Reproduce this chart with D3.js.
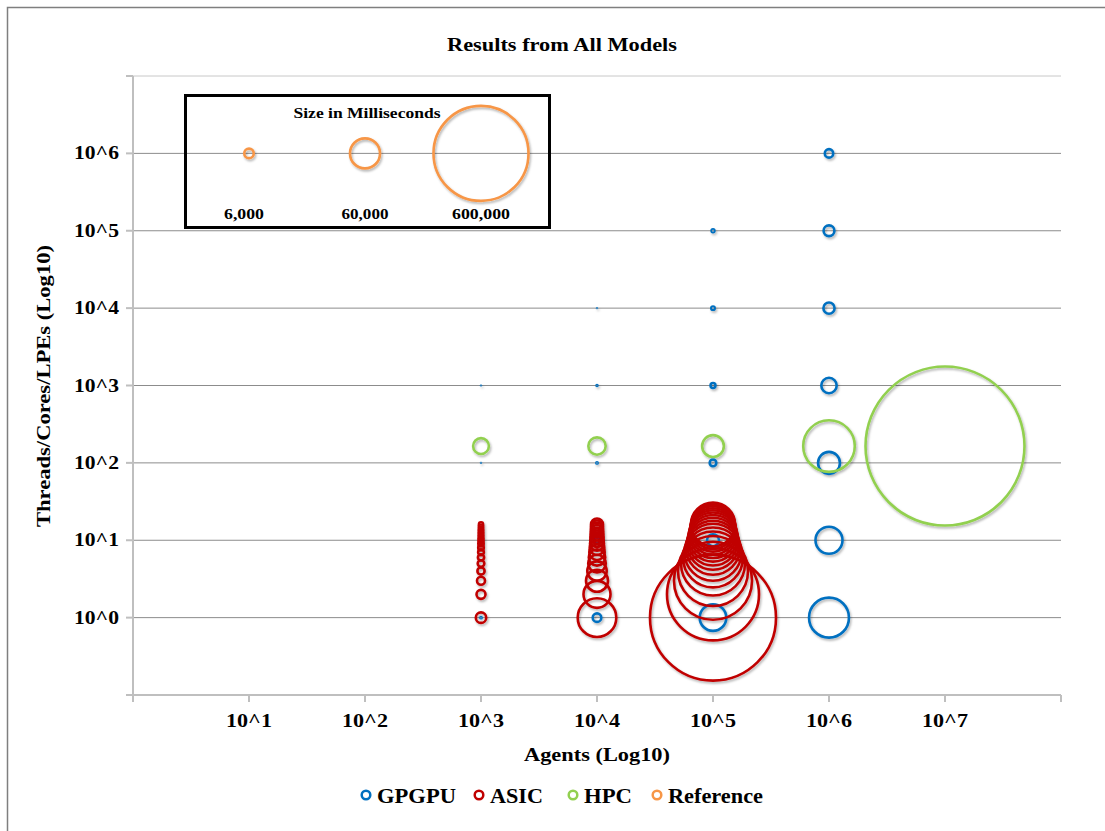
<!DOCTYPE html>
<html>
    <head>
        <script src="https://d3js.org/d3.v7.min.js"></script>
        <style>
            body{margin:0;background:#fff;}
            text{font-family:"Liberation Serif","Times New Roman",serif;font-weight:bold;fill:#000;}
        </style>
    </head>
    <body>
        <svg height="831" width="1105" id="chart"></svg>
        <script>
            // agents, threads/cores and run time (ms) per series
            const gpgpuAgents=[1e3,1e3,1e3,1e3, 1e4,1e4,1e4,1e4,1e4, 1e5,1e5,1e5,1e5,1e5,1e5, 1e6,1e6,1e6,1e6,1e6,1e6,1e6];
            const gpgpuThreads=[1,10,100,1000, 1,10,100,1000,1e4, 1,10,100,1000,1e4,1e5, 1,10,100,1000,1e4,1e5,1e6];
            const gpgpuMs=[450,600,170,170, 4900,2400,450,380,170, 47000,9600,2900,1660,1060,860, 106000,48500,32000,15800,8300,7800,4700];

            const asicAgents=[1e3,1e3,1e3,1e3,1e3,1e3,1e3,1e3,1e3,1e3,1e3,1e3,1e3,1e3,1e3,1e3,
                              1e4,1e4,1e4,1e4,1e4,1e4,1e4,1e4,1e4,1e4,1e4,1e4,1e4,1e4,1e4,1e4,
                              1e5,1e5,1e5,1e5,1e5,1e5,1e5,1e5,1e5,1e5,1e5,1e5,1e5,1e5,1e5,1e5];
            const asicCores=[1,2,3,4,5,6,7,8,9,10,11,12,13,14,15,16,
                             1,2,3,4,5,6,7,8,9,10,11,12,13,14,15,16,
                             1,2,3,4,5,6,7,8,9,10,11,12,13,14,15,16];
            const asicMs=[7200,5390,4260,3450,2900,2560,2240,2090,1940,1800,1660,1600,1530,1470,1410,1350,
                          99100,48500,32200,25000,20600,17900,15800,14200,13000,12300,11600,10900,10600,10200,9900,9600,
                          1056000,563000,405000,326000,272000,239000,216000,194000,180000,169000,160000,151000,143000,137000,132000,129000];

            const hpcAgents=[1e3,1e4,1e5,1e6,1e7];
            const hpcThreads=[165,165,165,165,165];
            const hpcMs=[16600,20000,31600,177000,1680000];

            const refAgents=[10,100,1000];
            const refThreads=[1e6,1e6,1e6];
            const refMs=[6000,60000,600000];

            const seriesNames=["GPGPU","ASIC","HPC","Reference"];
            const seriesColors=["#0070C0","#C00000","#92D050","#F79646"];
            const xTicks=[1e1,1e2,1e3,1e4,1e5,1e6,1e7];
            const yTicks=[1e0,1e1,1e2,1e3,1e4,1e5,1e6];

            let svg=d3.select("#chart");
            let defs=svg.append("defs");
            defs.append("filter").attr("id","shadow").attr("x","-20%").attr("y","-20%").attr("width","150%").attr("height","150%")
                .append("feDropShadow").attr("dx",1.2).attr("dy",1.8).attr("stdDeviation",1.3)
                .attr("flood-color","#000").attr("flood-opacity",0.3);

            // page frame (top + left edge)
            svg.append("path").attr("d","M7.5,831 V7.5 H1105").attr("fill","none").attr("stroke","#7f7f7f").attr("stroke-width",1.5);

            let x=d3.scaleLog().domain([1e0,1e8]).range([133,1061]);
            let y=d3.scaleLog().domain([1e-1,1e7]).range([695,76]);
            let r=d3.scaleSqrt().domain([0,600000]).range([0,47.5]);

            let allX=d3.range(0,9).map(k=>Math.pow(10,k));
            let allY=d3.range(-1,8).map(k=>Math.pow(10,k));

            // gridlines
            svg.append("g").selectAll("line").data(allY.slice(1)).join("line")
                .attr("x1",133).attr("x2",1061)
                .attr("y1",d=>y(d)).attr("y2",d=>y(d))
                .attr("stroke",d=>d==1e7?"#c8c8c8":"#8c8c8c").attr("stroke-width",1);

            // axes
            let axisG=svg.append("g").attr("stroke","#bfbfbf").attr("stroke-width",2);
            axisG.append("line").attr("x1",133).attr("x2",133).attr("y1",76).attr("y2",695);
            axisG.append("line").attr("x1",133).attr("x2",1061).attr("y1",695).attr("y2",695);
            axisG.selectAll(".xt").data(allX).join("line").attr("class","xt")
                .attr("x1",d=>x(d)).attr("x2",d=>x(d)).attr("y1",695).attr("y2",702);
            axisG.selectAll(".yt").data(allY).join("line").attr("class","yt")
                .attr("x1",126).attr("x2",133).attr("y1",d=>y(d)).attr("y2",d=>y(d));

            const expLabel=d=>"10^"+Math.round(Math.log10(d));

            svg.append("g").selectAll("text").data(yTicks).join("text")
                .attr("x",119).attr("y",d=>y(d)+6)
                .attr("text-anchor","end").style("font-size","18px")
                .attr("textLength",45).attr("lengthAdjust","spacingAndGlyphs")
                .text(expLabel);

            svg.append("g").selectAll("text").data(xTicks).join("text")
                .attr("x",d=>x(d)).attr("y",727)
                .attr("text-anchor","middle").style("font-size","18px")
                .attr("textLength",46).attr("lengthAdjust","spacingAndGlyphs")
                .text(expLabel);

            // titles
            svg.append("text").attr("x",562).attr("y",51).attr("text-anchor","middle")
                .style("font-size","19px").attr("textLength",230).attr("lengthAdjust","spacingAndGlyphs")
                .text("Results from All Models");
            svg.append("text").attr("x",597).attr("y",761).attr("text-anchor","middle")
                .style("font-size","19px").attr("textLength",146).attr("lengthAdjust","spacingAndGlyphs")
                .text("Agents (Log10)");
            svg.append("text").attr("transform","translate(50,386) rotate(-90)").attr("text-anchor","middle")
                .style("font-size","18px").attr("textLength",282).attr("lengthAdjust","spacingAndGlyphs")
                .text("Threads/Cores/LPEs (Log10)");

            // bubbles: series drawn in order, larger bubbles first inside a series
            let bubbles=[];
            gpgpuAgents.forEach((a,i)=>bubbles.push({s:0,a:a,t:gpgpuThreads[i],ms:gpgpuMs[i]}));
            asicAgents.forEach((a,i)=>bubbles.push({s:1,a:a,t:asicCores[i],ms:asicMs[i]}));
            hpcAgents.forEach((a,i)=>bubbles.push({s:2,a:a,t:hpcThreads[i],ms:hpcMs[i]}));
            refAgents.forEach((a,i)=>bubbles.push({s:3,a:a,t:refThreads[i],ms:refMs[i]}));
            bubbles.sort((p,q)=>p.s-q.s || q.ms-p.ms);

            svg.append("g").attr("filter","url(#shadow)").selectAll("circle").data(bubbles).join("circle")
                .attr("cx",d=>x(d.a)).attr("cy",d=>y(d.t))
                .attr("r",d=>r(d.ms))
                .attr("fill","none")
                .attr("stroke",d=>seriesColors[d.s])
                .attr("stroke-width",d=>Math.min(2.6,r(d.ms)));

            // size key box
            svg.append("rect").attr("x",185.5).attr("y",95.5).attr("width",364).attr("height",132)
                .attr("fill","none").attr("stroke","#000").attr("stroke-width",3);
            svg.append("text").attr("x",367).attr("y",118).attr("text-anchor","middle")
                .style("font-size","14px").attr("textLength",147).attr("lengthAdjust","spacingAndGlyphs")
                .text("Size in Milliseconds");
            svg.append("g").selectAll("text").data(refMs).join("text")
                .attr("x",(d,i)=>x(refAgents[i])-(i==0?5:0)).attr("y",219).attr("text-anchor","middle")
                .style("font-size","14px")
                .attr("textLength",(d,i)=>[40,47,58][i]).attr("lengthAdjust","spacingAndGlyphs")
                .text(d=>d3.format(",")(d));

            // series legend
            const legendX=[366,479,573,657];
            const legendW=[79,53,48,95];
            let leg=svg.append("g").selectAll("g").data(seriesNames).join("g")
                .attr("transform",(d,i)=>`translate(${legendX[i]},795)`);
            leg.append("circle").attr("r",4.3).attr("fill","none")
                .attr("stroke",(d,i)=>seriesColors[i]).attr("stroke-width",2.5);
            leg.append("text").attr("x",11).attr("y",7.5).style("font-size","20px")
                .attr("textLength",(d,i)=>legendW[i]).attr("lengthAdjust","spacingAndGlyphs")
                .text(d=>d);
        </script>
    </body>
</html>
